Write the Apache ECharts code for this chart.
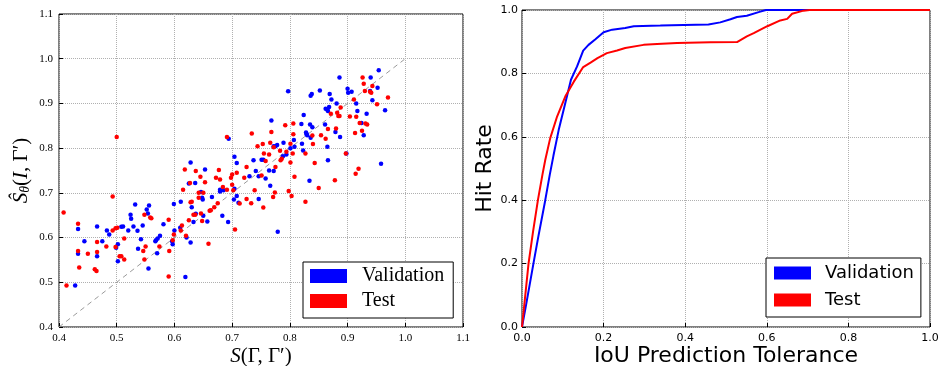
<!DOCTYPE html>
<html>
<head>
<meta charset="utf-8">
<script src="https://cdn.jsdelivr.net/npm/echarts@6/dist/echarts.min.js"></script>
<style>html,body{margin:0;padding:0;background:#fff;}#c{width:938px;height:366px;}</style>
</head>
<body>
<div id="c"></div>
<script>
// ---- Left panel: predicted vs. true score (scatter) ----
const validationPoints = [
  [0.428,0.493],[0.433,0.619],[0.433,0.564],[0.444,0.592],[0.466,0.625],[0.466,0.558],[0.475,0.592],
  [0.483,0.616],[0.487,0.607],[0.502,0.585],[0.499,0.577],[0.502,0.547],
  [0.508,0.624],[0.511,0.625],[0.520,0.616],[0.525,0.642],[0.524,0.651],[0.532,0.674],[0.529,0.625],
  [0.536,0.615],[0.542,0.596],[0.545,0.627],[0.552,0.663],[0.556,0.672],[0.554,0.654],[0.555,0.531],
  [0.567,0.592],[0.568,0.594],[0.571,0.598],[0.575,0.604],[0.581,0.630],[0.596,0.592],[0.597,0.585],
  [0.599,0.675],[0.600,0.616],[0.537,0.575],[0.570,0.565],
  [0.610,0.622],[0.611,0.680],[0.621,0.600],[0.619,0.512],[0.625,0.721],[0.628,0.768],[0.628,0.589],
  [0.630,0.668],[0.633,0.635],[0.636,0.722],[0.637,0.653],[0.646,0.702],[0.648,0.689],[0.649,0.685],
  [0.650,0.649],[0.653,0.752],[0.657,0.636],[0.665,0.691],[0.679,0.703],[0.679,0.707],[0.683,0.649],
  [0.685,0.706],[0.693,0.635],[0.694,0.821],[0.703,0.685],
  [0.704,0.709],[0.704,0.781],[0.708,0.767],[0.708,0.693],[0.711,0.678],[0.730,0.737],[0.737,0.773],
  [0.741,0.749],[0.746,0.737],[0.746,0.686],[0.751,0.774],[0.754,0.774],[0.758,0.732],[0.764,0.750],
  [0.766,0.716],[0.768,0.862],[0.772,0.804],[0.775,0.804],[0.772,0.749],[0.778,0.807],[0.779,0.613],
  [0.789,0.812],[0.788,0.782],[0.794,0.786],[0.797,0.927],
  [0.801,0.800],[0.807,0.818],[0.808,0.803],[0.820,0.854],[0.821,0.810],[0.823,0.795],[0.824,0.874],
  [0.828,0.835],[0.829,0.831],[0.830,0.829],[0.834,0.727],[0.835,0.853],[0.836,0.917],[0.838,0.921],
  [0.839,0.847],[0.836,0.823],[0.852,0.929],[0.861,0.853],[0.862,0.888],[0.865,0.886],[0.866,0.883],
  [0.865,0.803],[0.866,0.773],[0.869,0.921],[0.872,0.909],[0.868,0.892],[0.879,0.836],[0.886,0.958],
  [0.881,0.900],[0.887,0.825],
  [0.898,0.788],[0.900,0.933],[0.901,0.924],[0.907,0.926],[0.915,0.900],[0.917,0.883],[0.924,0.856],
  [0.928,0.829],[0.933,0.877],[0.939,0.928],[0.940,0.958],[0.943,0.907],[0.952,0.935],[0.954,0.974],
  [0.958,0.765],[0.965,0.885]
];
const testPoints = [
  [0.408,0.656],[0.413,0.493],[0.433,0.631],[0.433,0.570],[0.435,0.533],[0.450,0.564],[0.462,0.529],
  [0.465,0.525],[0.466,0.590],[0.466,0.568],[0.482,0.580],[0.493,0.692],[0.493,0.616],[0.498,0.621],
  [0.501,0.622],[0.498,0.579],[0.500,0.825],
  [0.505,0.558],[0.508,0.558],[0.513,0.551],[0.513,0.598],[0.546,0.570],[0.548,0.551],[0.550,0.580],
  [0.548,0.651],[0.558,0.645],[0.560,0.643],[0.574,0.580],[0.590,0.640],[0.591,0.570],[0.590,0.513],
  [0.597,0.594],[0.599,0.607],
  [0.611,0.616],[0.613,0.627],[0.615,0.707],[0.618,0.752],[0.620,0.604],[0.625,0.639],[0.628,0.679],
  [0.627,0.722],[0.630,0.680],[0.633,0.651],[0.636,0.651],[0.637,0.749],[0.642,0.700],[0.642,0.689],
  [0.645,0.736],[0.646,0.654],[0.648,0.637],[0.650,0.700],[0.653,0.724],[0.659,0.586],[0.661,0.660],
  [0.663,0.661],[0.669,0.668],[0.672,0.734],[0.675,0.677],[0.677,0.751],[0.679,0.730],[0.684,0.713],
  [0.691,0.707],[0.691,0.825],[0.698,0.734],[0.700,0.741],[0.700,0.718],
  [0.702,0.706],[0.705,0.618],[0.708,0.745],[0.713,0.676],[0.721,0.734],[0.725,0.758],[0.725,0.686],
  [0.733,0.677],[0.734,0.833],[0.739,0.706],[0.744,0.804],[0.753,0.809],[0.754,0.667],[0.755,0.788],
  [0.758,0.771],[0.751,0.739],[0.764,0.786],[0.766,0.812],[0.768,0.836],[0.771,0.691],[0.774,0.701],
  [0.772,0.802],[0.775,0.758],[0.783,0.794],[0.784,0.773],[0.786,0.776],[0.792,0.851],[0.794,0.792],
  [0.798,0.704],[0.801,0.768],
  [0.801,0.810],[0.803,0.693],[0.805,0.788],[0.806,0.855],[0.806,0.831],[0.808,0.736],[0.827,0.788],
  [0.827,0.680],[0.839,0.828],[0.840,0.809],[0.843,0.767],[0.850,0.711],[0.854,0.829],[0.862,0.821],
  [0.866,0.843],[0.871,0.877],[0.878,0.728],[0.880,0.844],[0.882,0.879],[0.884,0.872],[0.886,0.872],
  [0.888,0.891],
  [0.897,0.788],[0.904,0.871],[0.911,0.909],[0.913,0.834],[0.914,0.743],[0.915,0.870],[0.919,0.754],
  [0.921,0.856],[0.925,0.839],[0.926,0.958],[0.928,0.944],[0.930,0.928],[0.931,0.855],[0.934,0.853],
  [0.939,0.926],[0.941,0.924],[0.943,0.939],[0.951,0.898],[0.970,0.913]
];
const identityLine = [[0.4,0.4],[1.0,1.0]];
const scatterTicks = ['0.4','0.5','0.6','0.7','0.8','0.9','1.0','1.1'];

// ---- Right panel: hit rate vs IoU tolerance ----
const valTolerance = [0,0.01,0.028,0.04,0.057,0.068,0.077,0.09,0.106,0.12,0.135,0.15,0.163,0.18,0.2,0.221,0.253,0.274,0.339,0.396,0.457,0.486,0.511,0.527,0.551,0.582,0.598,1.0];
const valHitRate   = [0,0.07,0.2,0.285,0.4,0.48,0.54,0.622,0.706,0.78,0.822,0.872,0.89,0.908,0.93,0.938,0.943,0.949,0.951,0.953,0.954,0.961,0.971,0.978,0.982,0.994,1.0,1.0];
const testTolerance = [0,0.008,0.016,0.027,0.039,0.05,0.057,0.069,0.086,0.106,0.127,0.15,0.168,0.185,0.208,0.233,0.253,0.298,0.331,0.38,0.462,0.527,0.551,0.568,0.6,0.633,0.65,0.662,0.69,0.705,1.0];
const testHitRate   = [0,0.1,0.2,0.3,0.4,0.48,0.527,0.595,0.664,0.727,0.774,0.82,0.834,0.848,0.864,0.872,0.88,0.89,0.893,0.896,0.898,0.899,0.917,0.927,0.948,0.967,0.972,0.988,0.998,1.0,1.0];
const hitTicks = ['0.0','0.2','0.4','0.6','0.8','1.0'];

const BLUE = '#0000ff', RED = '#ff0000';
const zip = (a, b) => a.map((v, i) => [v, b[i]]);
const serif = 'Liberation Serif';
const sans = 'DejaVu Sans';
const grid = { type: 'dotted', color: '#b0b0b0', width: 1 };

const chart = echarts.init(document.getElementById('c'), null, { renderer: 'canvas' });
chart.setOption({
  animation: false,
  backgroundColor: '#fff',
  grid: [
    { left: 59, top: 14, width: 404, height: 313, show: true, borderColor: '#000', borderWidth: 1, containLabel: false, outerBoundsMode: 'none' },
    { left: 522, top: 10, width: 408, height: 317, show: true, borderColor: '#000', borderWidth: 1, containLabel: false, outerBoundsMode: 'none' }
  ],
  xAxis: [
    { gridIndex: 0, type: 'value', min: 0.4, max: 1.1, interval: 0.1,
      axisLine: { show: false }, axisTick: { inside: true, length: 4, lineStyle: { color: '#000' } },
      splitLine: { lineStyle: grid },
      axisLabel: { color: '#000', fontFamily: serif, fontSize: 11, margin: 6, formatter: v => scatterTicks[Math.round((v - 0.4) * 10)] },
      name: '{i|S}{n|(Γ, Γ′)}', nameLocation: 'middle', nameGap: 19, nameMoveOverlap: false,
      nameTextStyle: { rich: { i: { fontFamily: serif, fontStyle: 'italic', fontSize: 21, color: '#000' }, n: { fontFamily: serif, fontSize: 21, color: '#000' } } } },
    { gridIndex: 1, type: 'value', min: 0, max: 1, interval: 0.2,
      axisLine: { show: false }, axisTick: { inside: true, length: 4, lineStyle: { color: '#000' } },
      splitLine: { lineStyle: grid },
      axisLabel: { color: '#000', fontFamily: sans, fontSize: 11, margin: 6, formatter: v => hitTicks[Math.round(v * 5)] },
      name: 'IoU Prediction Tolerance', nameLocation: 'middle', nameGap: 18, nameMoveOverlap: false,
      nameTextStyle: { fontFamily: sans, fontSize: 22, color: '#000' } }
  ],
  yAxis: [
    { gridIndex: 0, type: 'value', min: 0.4, max: 1.1, interval: 0.1,
      axisLine: { show: false }, axisTick: { inside: true, length: 4, lineStyle: { color: '#000' } },
      splitLine: { lineStyle: grid },
      axisLabel: { color: '#000', fontFamily: serif, fontSize: 11, margin: 6, formatter: v => scatterTicks[Math.round((v - 0.4) * 10)] },
      name: '{i|Ŝ}{sub|θ}{n|(}{i|I}{n|, Γ′)}', nameLocation: 'middle', nameGap: 27,
      nameTextStyle: { rich: {
        i: { fontFamily: serif, fontStyle: 'italic', fontSize: 21, color: '#000' },
        sub: { fontFamily: serif, fontStyle: 'italic', fontSize: 14, color: '#000', verticalAlign: 'bottom', padding: [6, 0, 0, 0] },
        n: { fontFamily: serif, fontSize: 21, color: '#000' } } } },
    { gridIndex: 1, type: 'value', min: 0, max: 1, interval: 0.2,
      axisLine: { show: false }, axisTick: { inside: true, length: 4, lineStyle: { color: '#000' } },
      splitLine: { lineStyle: grid },
      axisLabel: { color: '#000', fontFamily: sans, fontSize: 11, margin: 4, formatter: v => hitTicks[Math.round(v * 5)] },
      name: 'Hit Rate', nameLocation: 'middle', nameGap: 26,
      nameTextStyle: { fontFamily: sans, fontSize: 22, color: '#000' } }
  ],
  legend: [
    { left: 303, top: 262, orient: 'vertical', icon: 'rect', itemWidth: 37, itemHeight: 14, itemGap: 5,
      padding: [4, 9, 7, 7], borderColor: '#000', borderWidth: 1, backgroundColor: '#fff',
      itemStyle: { opacity: 1 },
      textStyle: { fontFamily: serif, fontSize: 20, color: '#000', lineHeight: 20, padding: [0, 0, 0, 10] },
      data: ['Validation', 'Test'] },
    { left: 766, top: 258, orient: 'vertical', icon: 'rect', itemWidth: 37, itemHeight: 13, itemGap: 7,
      padding: [5, 7, 7, 8], borderColor: '#000', borderWidth: 1, backgroundColor: '#fff',
      itemStyle: { opacity: 1 },
      textStyle: { fontFamily: sans, fontSize: 18, color: '#000', lineHeight: 20, padding: [0, 0, 0, 9] },
      data: ['Validation', 'Test'] }
  ],
  series: [
    { name: 'identity', type: 'line', xAxisIndex: 0, yAxisIndex: 0, data: identityLine, showSymbol: false, silent: true,
      lineStyle: { color: '#9a9a9a', width: 1, type: [5, 4] }, z: 1 },
    { name: 'Validation', type: 'scatter', xAxisIndex: 0, yAxisIndex: 0, data: validationPoints,
      symbolSize: 4.5, itemStyle: { color: BLUE, opacity: 1 }, z: 3 },
    { name: 'Test', type: 'scatter', xAxisIndex: 0, yAxisIndex: 0, data: testPoints,
      symbolSize: 4.5, itemStyle: { color: RED, opacity: 1 }, z: 3 },
    { name: 'Validation', type: 'line', xAxisIndex: 1, yAxisIndex: 1, data: zip(valTolerance, valHitRate),
      showSymbol: false, itemStyle: { color: BLUE }, lineStyle: { color: BLUE, width: 2 }, z: 3 },
    { name: 'Test', type: 'line', xAxisIndex: 1, yAxisIndex: 1, data: zip(testTolerance, testHitRate),
      showSymbol: false, itemStyle: { color: RED }, lineStyle: { color: RED, width: 2 }, z: 3 }
  ]
});
</script>
</body>
</html>
